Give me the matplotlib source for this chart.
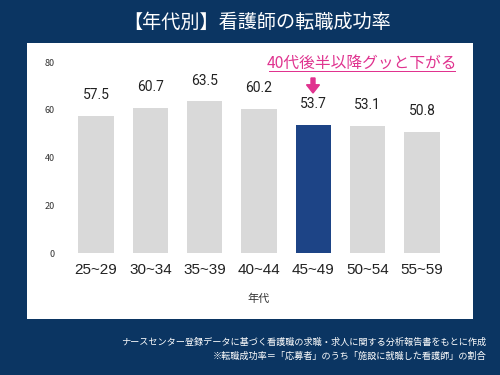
import matplotlib.pyplot as plt
from matplotlib.patches import Rectangle, FancyArrow

plt.rcParams['font.family'] = ['Noto Sans CJK JP', 'DejaVu Sans']

# data
age_groups = ['25~29', '30~34', '35~39', '40~44', '45~49', '50~54', '55~59']
success_rate = [57.5, 60.7, 63.5, 60.2, 53.7, 53.1, 50.8]
highlight = '45~49'

title = '【年代別】看護師の転職成功率'
note = '40代後半以降グッと下がる'
footer = ['ナースセンター登録データに基づく看護職の求職・求人に関する分析報告書をもとに作成',
          '※転職成功率＝「応募者」のうち「施設に就職した看護師」の割合']

bg = '#0b3562'
gray = '#d9d9d9'
navy = '#1d4486'
pink = '#e0338f'

fig = plt.figure(figsize=(5, 3.75), dpi=100, facecolor=bg)

# white panel behind the chart
fig.patches.append(Rectangle((0.054, 0.150), 0.892, 0.735, transform=fig.transFigure,
                             facecolor='white', edgecolor='none', zorder=-5))

fig.text(0.514, 0.94, title, color='white', fontsize=13.8, ha='center', va='center')

ax = fig.add_axes([0.1236, 0.3253, 0.789, 0.5093])
ax.set_facecolor('none')
ax.set_zorder(2)
colors = [navy if a == highlight else gray for a in age_groups]
x = range(len(age_groups))
bars = ax.bar(x, success_rate, width=0.65, color=colors)

for b, v in zip(bars, success_rate):
    ax.annotate(f'{v}', (b.get_x() + b.get_width() / 2, v), xytext=(0, 10),
                textcoords='offset points', ha='center', va='bottom',
                fontsize=10, color='#222222', family=['Roboto', 'DejaVu Sans'])

ax.set_xlim(-0.63, 6.63)
ax.set_ylim(0, 80)
ax.set_yticks([0, 20, 40, 60, 80])
ax.set_xticks(list(x))
ax.set_xticklabels(age_groups, fontsize=11, family=['Liberation Sans', 'DejaVu Sans'], color='#222222')
ax.tick_params(axis='y', labelsize=6.5, length=0, pad=5, labelcolor='#333333')
ax.tick_params(axis='x', length=0, pad=7)
for s in ax.spines.values():
    s.set_visible(False)
ax.set_xlabel('年代', fontsize=8, color='#333333', labelpad=12)

# callout
fig.text(0.724, 0.832, note, color=pink, fontsize=11.3, ha='center', va='center')
fig.add_artist(Rectangle((0.537, 0.807), 0.375, 0.004, transform=fig.transFigure,
                         facecolor=pink, edgecolor='none'))
fig.add_artist(FancyArrow(0.626, 0.792, 0, -0.04, width=0.008, head_width=0.026,
                          head_length=0.022, transform=fig.transFigure,
                          color=pink, length_includes_head=True))

fig.text(0.972, 0.086, footer[0], color='white', fontsize=6.6, ha='right', va='center')
fig.text(0.972, 0.051, footer[1], color='white', fontsize=6.6, ha='right', va='center')

fig.savefig('out.png', dpi=100, facecolor=bg)
